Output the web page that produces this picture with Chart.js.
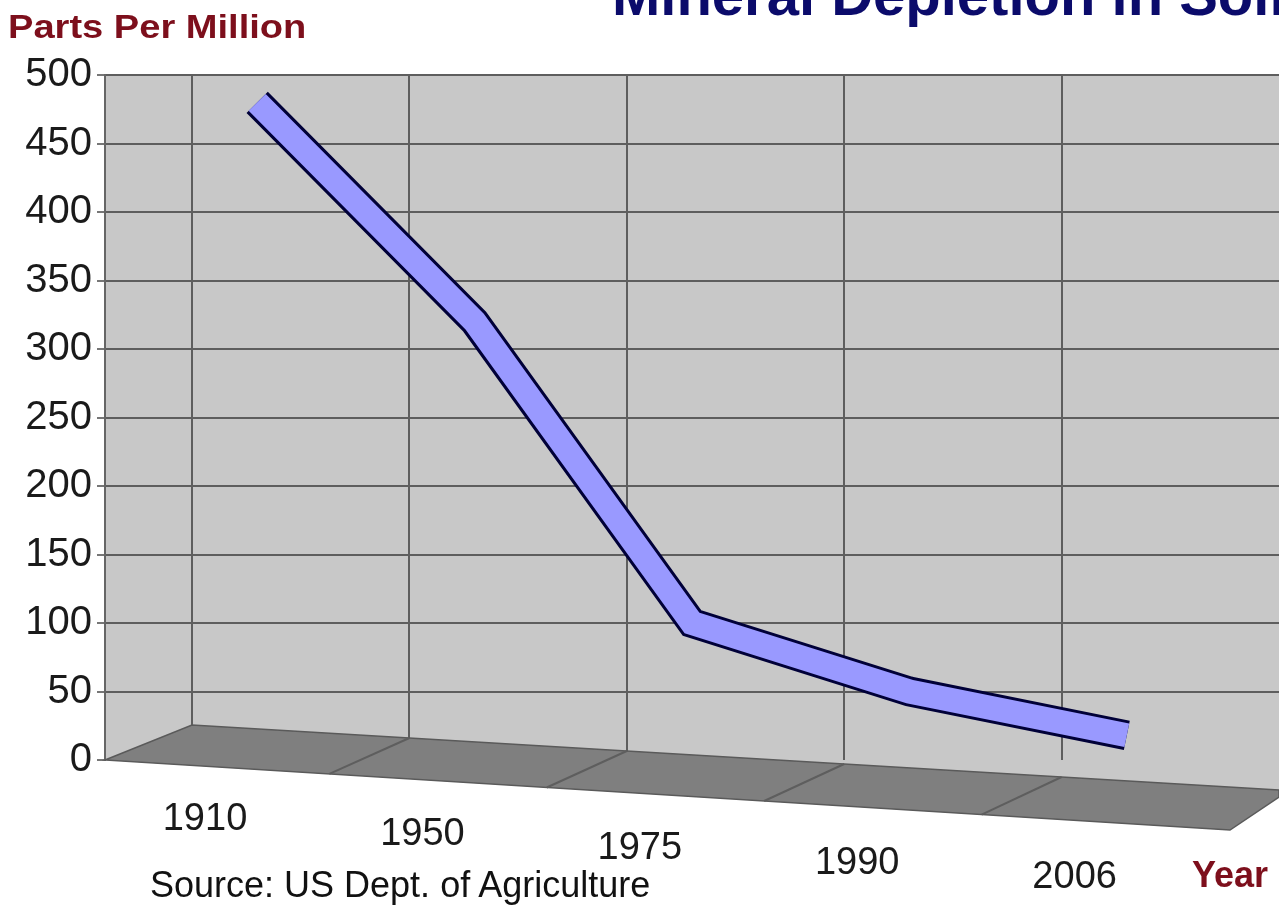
<!DOCTYPE html>
<html>
<head>
<meta charset="utf-8">
<script src="https://cdn.jsdelivr.net/npm/chart.js@4"></script>
<style>
body { margin: 0; background: #fff; overflow: hidden; }
#wrap { position: relative; width: 1279px; height: 914px; }
.txt { position: absolute; white-space: nowrap; font-family: "Liberation Sans", Arial, sans-serif; }
#title { left: 612px; top: -34px; font-size: 58px; line-height: 58px; font-weight: bold; color: #0b0b6b; }
#ytitle { left: 8px; top: 9px; font-size: 34px; line-height: 34px; font-weight: bold; color: #7d0f1c; transform: scaleX(1.12); transform-origin: left top; }
#xtitle { left: 1192px; top: 857px; font-size: 36px; line-height: 36px; font-weight: bold; color: #7d0f1c; }
#source { left: 150px; top: 867px; font-size: 36px; line-height: 36px; color: #111; }
</style>
</head>
<body>
<div id="wrap">
  <canvas id="myChart"></canvas>
  <div class="txt" id="title">Mineral Depletion in Soil</div>
  <div class="txt" id="ytitle">Parts Per Million</div>
  <div class="txt" id="xtitle">Year</div>
  <div class="txt" id="source">Source: US Dept. of Agriculture</div>
</div>
<script>
const years = ['1910', '1950', '1975', '1990', '2006']
const ppm = [480, 320, 100, 50, 18]
const yMin = 0
const yMax = 500
const yStep = 50

const ctx = document.getElementById('myChart')

// the 3D wall and floor of the old spreadsheet chart
const wallFloor = {
  id: 'wallFloor',
  beforeDraw(chart) {
    const c = chart.ctx
    const a = chart.chartArea
    const y0 = chart.scales.y.getPixelForValue(0)
    const corner = chart.scales.x.getPixelForValue(-0.3)
    c.save()
    c.fillStyle = '#c8c8c8'
    c.beginPath()
    c.moveTo(a.left, a.top)
    c.lineTo(a.right, a.top)
    c.lineTo(a.right, y0 + 30)
    c.lineTo(corner, y0 - 35)
    c.lineTo(a.left, y0)
    c.closePath()
    c.fill()
    c.restore()
  },
  beforeDatasetsDraw(chart) {
    const c = chart.ctx
    const a = chart.chartArea
    const x = chart.scales.x
    const y0 = chart.scales.y.getPixelForValue(0)
    const corner = x.getPixelForValue(-0.3)
    const backY = px => y0 - 35 + (px - corner) * 65 / (a.right - corner)
    const frontY = px => y0 + (px - a.left) * 70 / (a.right - 49 - a.left)
    c.save()
    c.fillStyle = '#7f7f7f'
    c.strokeStyle = '#5a5a5a'
    c.lineWidth = 1.5
    c.beginPath()
    c.moveTo(a.left, y0)
    c.lineTo(corner, y0 - 35)
    c.lineTo(a.right, y0 + 30)
    c.lineTo(a.right, y0 + 37)
    c.lineTo(a.right - 49, y0 + 70)
    c.closePath()
    c.fill()
    c.stroke()
    c.strokeStyle = '#5e5e5e'
    c.lineWidth = 2
    for (let i = 1; i < years.length; i++) {
      const px = x.getPixelForValue(i - 0.3)
      c.beginPath()
      c.moveTo(px, backY(px))
      c.lineTo(px - 80, frontY(px - 80))
      c.stroke()
    }
    c.restore()
  },
  afterDraw(chart) {
    const c = chart.ctx
    const a = chart.chartArea
    const x = chart.scales.x
    c.save()
    c.font = '38px "Liberation Sans", Arial, sans-serif'
    c.fillStyle = '#1a1a1a'
    c.textAlign = 'center'
    c.textBaseline = 'middle'
    years.forEach((yr, i) => {
      c.fillText(yr, x.getPixelForValue(i - 0.24), a.bottom + 60 + i * 14.5)
    })
    c.restore()
  }
}

const points = ppm.map((v, i) => ({ x: i, y: v }))

const data = {
  datasets: [{
    label: 'Parts Per Million',
    data: points,
    borderColor: '#9999ff',
    borderWidth: 24,
    borderJoinStyle: 'miter',
    borderCapStyle: 'butt',
    pointRadius: 0,
    tension: 0,
    order: 1
  }, {
    label: 'outline',
    data: points,
    borderColor: '#000038',
    borderWidth: 30,
    borderJoinStyle: 'miter',
    borderCapStyle: 'butt',
    pointRadius: 0,
    tension: 0,
    order: 2
  }]
}

const config = {
  type: 'line',
  data: data,
  plugins: [wallFloor],
  options: {
    responsive: true,
    maintainAspectRatio: false,
    animation: false,
    layout: { padding: { top: 75, bottom: 154, left: 0, right: 0 } },
    plugins: {
      legend: { display: false },
      tooltip: { enabled: false }
    },
    scales: {
      x: {
        type: 'linear',
        min: -0.7,
        max: 4.7,
        afterBuildTicks: axis => { axis.ticks = years.map((yr, i) => ({ value: i - 0.3 })) },
        ticks: { display: false },
        grid: { color: '#5e5e5e', lineWidth: 2, drawTicks: false },
        border: { display: false }
      },
      y: {
        min: yMin,
        max: yMax,
        afterFit: axis => { axis.width = 105 },
        ticks: {
          stepSize: yStep,
          color: '#1a1a1a',
          font: { family: '"Liberation Sans", Arial, sans-serif', size: 40 },
          padding: 5
        },
        grid: {
          color: c => c.tick.value === 0 ? 'rgba(0,0,0,0)' : '#5e5e5e',
          tickColor: '#777',
          lineWidth: 2,
          tickLength: 8
        },
        border: { display: true, color: '#666', width: 2 }
      }
    }
  }
}

const myChart = new Chart(ctx, config)
</script>
</body>
</html>
